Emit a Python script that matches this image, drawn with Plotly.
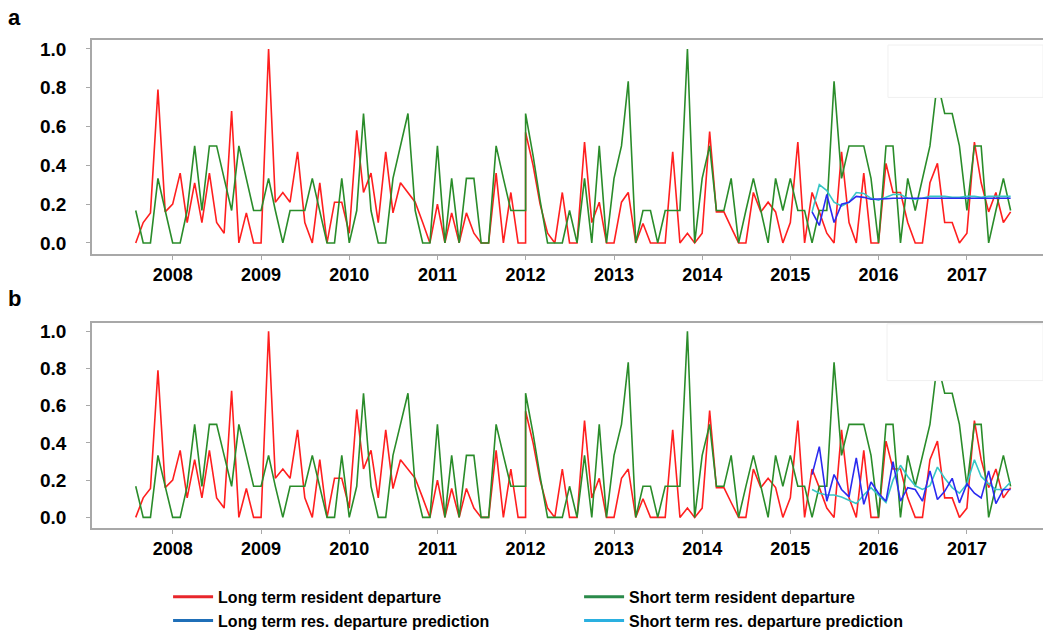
import pandas as pd
import plotly.graph_objects as go

# ---------------- data ----------------
# monthly observations 2007-08 .. 2017-07; 2012-01 carries two readings (vertical jump)
months = list(pd.date_range("2007-08-01", "2017-07-01", freq="MS"))
dates = months[:54] + [months[53]] + months[54:]

long_term = [0, 0.105, 0.155, 0.79, 0.16, 0.20, 0.36, 0.105, 0.31, 0.105,
             0.36, 0.105, 0.05, 0.68, 0, 0.155, 0, 0, 1.0, 0.21,
             0.26, 0.21, 0.47, 0.105, 0, 0.31, 0, 0.21, 0.21, 0.05,
             0.58, 0.26, 0.36, 0.105, 0.47, 0.155, 0.31, 0.26, 0.21, 0.105,
             0, 0.2, 0, 0.155, 0, 0.155, 0.05, 0, 0, 0.36,
             0, 0.26, 0, 0, 0.57, 0.40, 0.2, 0.05, 0, 0.26,
             0, 0, 0.52, 0.105, 0.21, 0, 0, 0.21, 0.26, 0,
             0.10, 0, 0, 0, 0.47, 0, 0.05, 0, 0.05, 0.574,
             0.16, 0.16, 0.08, 0, 0, 0.26, 0.16, 0.21, 0.16, 0,
             0.105, 0.52, 0, 0.26, 0.16, 0.05, 0, 0.47, 0.105, 0,
             0.36, 0, 0, 0.41, 0.26, 0.26, 0.105, 0, 0, 0.31,
             0.41, 0.105, 0.105, 0, 0.05, 0.52, 0.31, 0.16, 0.26, 0.105,
             0.16]

short_term = [0.167, 0, 0, 0.333, 0.167, 0, 0, 0.167, 0.5, 0.167,
              0.5, 0.5, 0.333, 0.167, 0.5, 0.333, 0.167, 0.167, 0.333, 0.167,
              0, 0.167, 0.167, 0.167, 0.333, 0.167, 0, 0, 0.333, 0,
              0.167, 0.667, 0.167, 0, 0, 0.333, 0.5, 0.667, 0.167, 0,
              0, 0.5, 0, 0.333, 0, 0.333, 0.333, 0, 0, 0.5,
              0.333, 0.167, 0.167, 0.167, 0.667, 0.45, 0.22, 0, 0, 0,
              0.167, 0, 0.333, 0, 0.5, 0, 0.333, 0.5, 0.833, 0,
              0.167, 0.167, 0, 0.167, 0.167, 0.167, 1.0, 0, 0.333, 0.5,
              0.167, 0.167, 0.333, 0, 0.167, 0.333, 0.167, 0, 0.333, 0.167,
              0.333, 0.167, 0.167, 0, 0.167, 0.167, 0.833, 0.333, 0.5, 0.5,
              0.5, 0.333, 0, 0.5, 0.5, 0, 0.333, 0.167, 0.333, 0.5,
              0.833, 0.667, 0.667, 0.5, 0.167, 0.5, 0.5, 0, 0.167, 0.333,
              0.167]

pred_dates = list(pd.date_range("2015-04-01", "2017-07-01", freq="MS"))

long_pred_a = [0.16, 0.09, 0.25, 0.105, 0.2, 0.21, 0.24, 0.235, 0.225, 0.225,
               0.228, 0.23, 0.23, 0.228, 0.228, 0.23, 0.23, 0.23, 0.23, 0.228,
               0.228, 0.23, 0.23, 0.23, 0.228, 0.23, 0.23, 0.23]
short_pred_a = [0.16, 0.30, 0.27, 0.21, 0.19, 0.21, 0.26, 0.255, 0.23, 0.22,
                0.235, 0.25, 0.25, 0.23, 0.225, 0.23, 0.24, 0.24, 0.24, 0.235,
                0.235, 0.24, 0.24, 0.235, 0.24, 0.24, 0.24, 0.24]
long_pred_b = [0.23, 0.38, 0.087, 0.23, 0.15, 0.11, 0.32, 0.07, 0.19, 0.13,
               0.087, 0.30, 0.087, 0.16, 0.15, 0.087, 0.25, 0.096, 0.14, 0.21,
               0.078, 0.18, 0.13, 0.105, 0.25, 0.074, 0.15, 0.15]
short_pred_b = [0.15, 0.13, 0.12, 0.12, 0.11, 0.09, 0.075, 0.12, 0.16, 0.12,
                0.08, 0.2, 0.28, 0.22, 0.17, 0.15, 0.17, 0.27, 0.21, 0.16,
                0.13, 0.18, 0.31, 0.22, 0.18, 0.15, 0.15, 0.19]

legend_names = ["Long term resident departure", "Short term resident departure",
                "Long term res. departure prediction", "Short term res. departure prediction"]
yticks = [0.0, 0.2, 0.4, 0.6, 0.8, 1.0]

# ---------------- styling ----------------
RED, GREEN, BLUE, CYAN = "#ff1f1f", "#2a8c2a", "#2a2af0", "#36c6c6"
LEG_COLORS = ["#e8262b", "#2a8a4a", "#1f6fb8", "#2ab0e0"]
LW = 1.6

fig = go.Figure()
for xa, ya, lp, sp in [("x", "y", long_pred_a, short_pred_a), ("x2", "y2", long_pred_b, short_pred_b)]:
    fig.add_trace(go.Scatter(x=dates, y=long_term, mode="lines", line=dict(color=RED, width=LW),
                             xaxis=xa, yaxis=ya, showlegend=False))
    fig.add_trace(go.Scatter(x=dates, y=short_term, mode="lines", line=dict(color=GREEN, width=LW),
                             xaxis=xa, yaxis=ya, showlegend=False))
    fig.add_trace(go.Scatter(x=pred_dates, y=sp, mode="lines", line=dict(color=CYAN, width=LW),
                             xaxis=xa, yaxis=ya, showlegend=False))
    fig.add_trace(go.Scatter(x=pred_dates, y=lp, mode="lines", line=dict(color=BLUE, width=LW),
                             xaxis=xa, yaxis=ya, showlegend=False))

# legend entries
for name, col in zip(legend_names, LEG_COLORS):
    fig.add_trace(go.Scatter(x=[None], y=[None], mode="lines", name=name,
                             line=dict(color=col, width=3), xaxis="x", yaxis="y"))

xr = ["2007-02-01", "2017-11-12"]
yr = [-0.057, 1.046]
axis_common = dict(showline=True, mirror=True, linecolor="#a8a8a8", linewidth=1.5,
                   ticks="outside", ticklen=4, tickcolor="#a8a8a8", showgrid=False,
                   zeroline=False)
xcommon = dict(axis_common, range=xr, type="date", dtick="M12", tick0="2008-01-01",
               tickformat="%Y", tickfont=dict(family="Liberation Sans", size=18, color="black", weight="bold"))
ycommon = dict(axis_common, range=yr, tickvals=yticks, tickformat=".1f",
               tickfont=dict(family="Liberation Sans", size=19, color="black", weight="bold"),
               ticklabelstandoff=16)

fig.update_layout(
    width=1043, height=631,
    margin=dict(l=92, r=0, t=40, b=103, autoexpand=False),
    paper_bgcolor="white", plot_bgcolor="white",
    xaxis=dict(xcommon, domain=[0, 1], anchor="y"),
    yaxis=dict(ycommon, domain=[0.5615, 1], anchor="x"),
    xaxis2=dict(xcommon, domain=[0, 1], anchor="y2"),
    yaxis2=dict(ycommon, domain=[0, 0.4207], anchor="x2"),
    legend=dict(orientation="h", x=0.080, xanchor="left", y=-0.106, yanchor="top",
                entrywidth=356, entrywidthmode="pixels", traceorder="normal",
                font=dict(family="Liberation Sans", size=16, color="black", weight="bold"),
                bgcolor="rgba(0,0,0,0)", itemwidth=40, tracegroupgap=0),
    showlegend=True,
    annotations=[
        dict(text="a", x=-0.0905, y=1.0757, xref="paper", yref="paper", showarrow=False,
             font=dict(family="Liberation Sans", size=22, color="black", weight="bold")),
        dict(text="b", x=-0.0905, y=0.471, xref="paper", yref="paper", showarrow=False,
             font=dict(family="Liberation Sans", size=22, color="black", weight="bold")),
    ],
    shapes=[
        dict(type="rect", xref="paper", yref="y", x0=0.837, x1=1.0, y0=0.75, y1=1.02,
             fillcolor="white", line=dict(color="#f0f0f0", width=1), layer="above"),
        dict(type="rect", xref="paper", yref="y2", x0=0.836, x1=1.0, y0=0.735, y1=1.04,
             fillcolor="white", line=dict(color="#f0f0f0", width=1), layer="above"),
    ],
)

fig.write_html("out.html", config={"displayModeBar": False},
               post_script="document.body.style.margin='0';document.body.style.overflow='hidden';")
